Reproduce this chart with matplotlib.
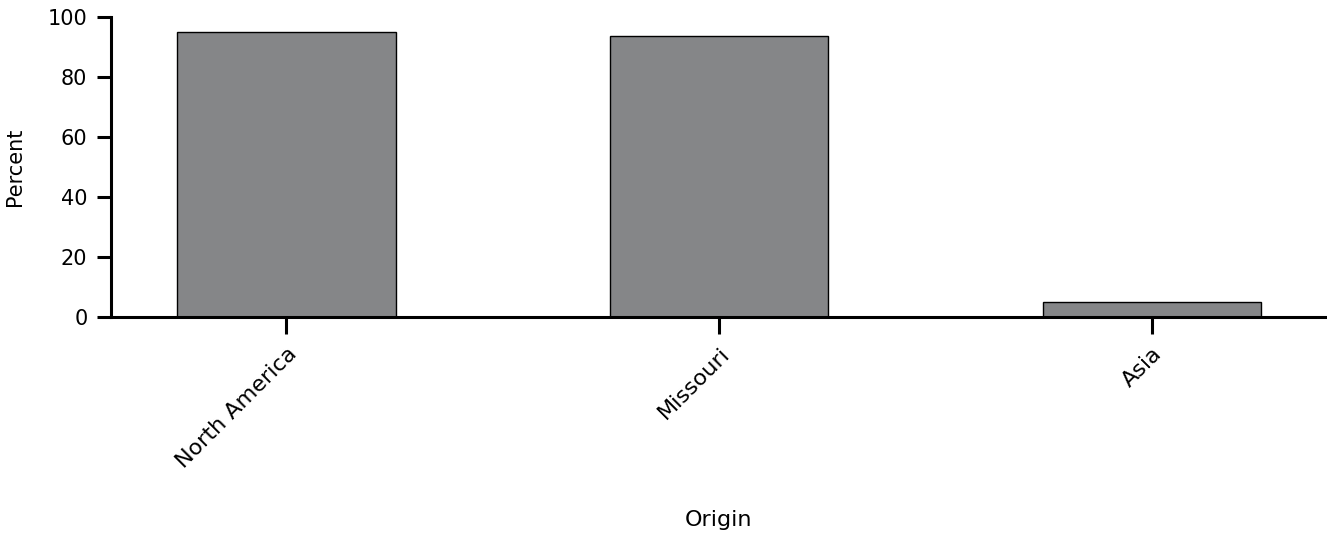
import numpy as np
import matplotlib.pyplot as plt

plt.rcParams['font.family'] = ['DejaVu Sans']

origins = ["North America", "Missouri", "Asia"]
percent = [95.0, 93.7, 4.9]
y_ticks = [0, 20, 40, 60, 80, 100]

fig = plt.figure(figsize=(13.27, 5.35), dpi=100)
ax = fig.add_axes([111 / 1327, (535 - 317) / 535, (1325 - 111) / 1327, 300 / 535])

x = np.arange(len(origins))
ax.bar(x, percent, width=0.505, color='#858688', edgecolor='black', linewidth=1.0)

ax.set_xlim(-0.405, 2.4)
ax.set_ylim(0, 100)
ax.set_yticks(y_ticks)
ax.set_xticks(x)
ax.set_xticklabels(origins, rotation=45, ha='right', va='top', rotation_mode='anchor',
                   fontsize=16)
ax.tick_params(axis='y', labelsize=15, width=2.2, length=10, pad=7)
ax.tick_params(axis='x', width=2.2, length=12, pad=7)

for side in ['top', 'right']:
    ax.spines[side].set_visible(False)
for side in ['left', 'bottom']:
    ax.spines[side].set_linewidth(2.2)

ax.set_ylabel("Percent", fontsize=15, labelpad=16)
ax.set_xlabel("Origin", fontsize=16, labelpad=28)

fig.savefig("out.png", dpi=100)
